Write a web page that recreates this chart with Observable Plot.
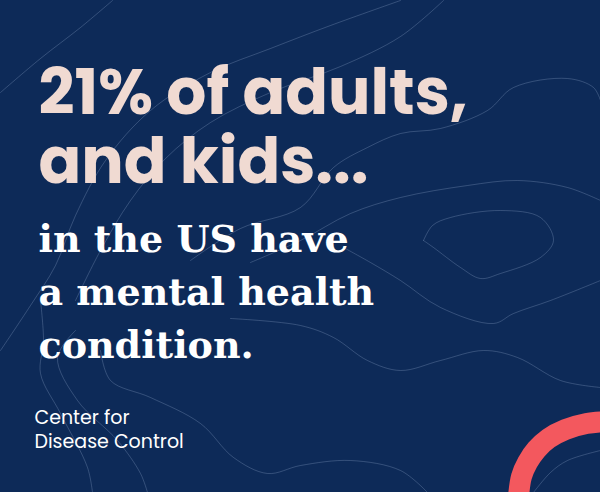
<!DOCTYPE html>
<html>
<head>
<meta charset="utf-8">
<script src="https://cdn.jsdelivr.net/npm/d3@7"></script>
<script src="https://cdn.jsdelivr.net/npm/@observablehq/plot@0.6"></script>
<style>
  html, body { margin: 0; padding: 0; background: #0d2a58; }
  #chart svg { display: block; }
</style>
</head>
<body>
<div id="chart"></div>
<script>
// text content
const headline = ["21% of adults,", "and kids..."];
const subline = ["in the US have", "a mental health", "condition."];
const source = ["Center for", "Disease Control"];

// decorative contour lines (pixel coords)
const contours = [
  [[0,92],[40,58],[80,27],[112,0]],
  [[0,350],[30,305],[55,265],[75,215],[105,160],[150,110],[210,72],[270,48],[330,25],[400,0]],
  [[75,300],[100,250],[130,200],[165,158],[210,122],[270,92],[340,66],[400,36],[443,0]],
  [[190,260],[240,228],[300,207],[333,167],[367,147],[400,133],[440,128],[487,110],[513,87],[567,78],[593,87],[600,100]],
  [[250,262],[300,240],[350,213],[400,197],[467,185],[517,180],[567,187],[600,200]],
  [[423,240],[432,225],[450,217],[500,210],[540,217],[553,240],[540,257],[500,273],[480,278],[460,267],[433,247],[423,240]],
  [[343,247],[370,262],[400,280],[440,307],[493,323],[513,313],[550,300],[600,280]],
  [[230,318],[300,325],[333,337],[367,360],[400,370],[440,360],[483,350],[517,357],[560,380],[600,387]],
  [[100,350],[110,380],[150,397],[200,423],[233,457],[267,473],[300,465],[350,460],[400,470],[427,492]],
  [[40,300],[43,340],[40,373],[60,413],[87,467],[92,492]],
  [[75,330],[57,357],[77,400],[117,440],[140,473],[147,492]],
  [[533,492],[550,472],[567,460],[600,450]]
];

// red corner swoosh, centre line
const swoosh = [[518,496],[521,476],[527,462],[536,449],[548,438],[565,429],[586,423],[606,421]];

const contourRows = contours.flatMap((pts, k) => pts.map(([x, y]) => ({k, x, y})));

// each block is one multi-line text, anchored on the baseline of its last line
let block = (lines, x, y, fontSize, lineGap, rest) =>
  Plot.text([lines.join("\n")], {
    x: () => x, y: () => y, text: d => d,
    textAnchor: "start", lineAnchor: "bottom",
    fontSize, lineHeight: lineGap / fontSize,
    ...rest
  });

let chart = Plot.plot({
  width: 600,
  height: 492,
  margin: 0,
  x: {domain: [0, 600], range: [0, 600], axis: null},
  y: {domain: [0, 492], range: [0, 492], axis: null},
  style: {background: "#0d2a58"},
  marks: [
    Plot.line(contourRows, {
      x: "x", y: "y", z: "k",
      curve: "catmull-rom",
      stroke: "#8fa6c8", strokeOpacity: 0.35, strokeWidth: 0.9
    }),
    Plot.line(swoosh, {
      x: d => d[0], y: d => d[1],
      curve: "catmull-rom",
      stroke: "#f3585e", strokeWidth: 21, strokeLinecap: "butt"
    }),
    block(headline, 38, 182, 63, 69, {
      fontFamily: "Poppins, Lato, sans-serif", fontWeight: 700, fill: "#f0dad2"
    }),
    block(subline, 38, 357, 38, 53, {
      fontFamily: "'DejaVu Serif', serif", fontWeight: 700, fill: "#ffffff"
    }),
    block(source, 34, 447, 19, 24, {
      fontFamily: "Poppins, Lato, sans-serif", fontWeight: 400, fill: "#ffffff"
    })
  ]
});
d3.select("#chart").append(() => chart);
</script>
</body>
</html>
